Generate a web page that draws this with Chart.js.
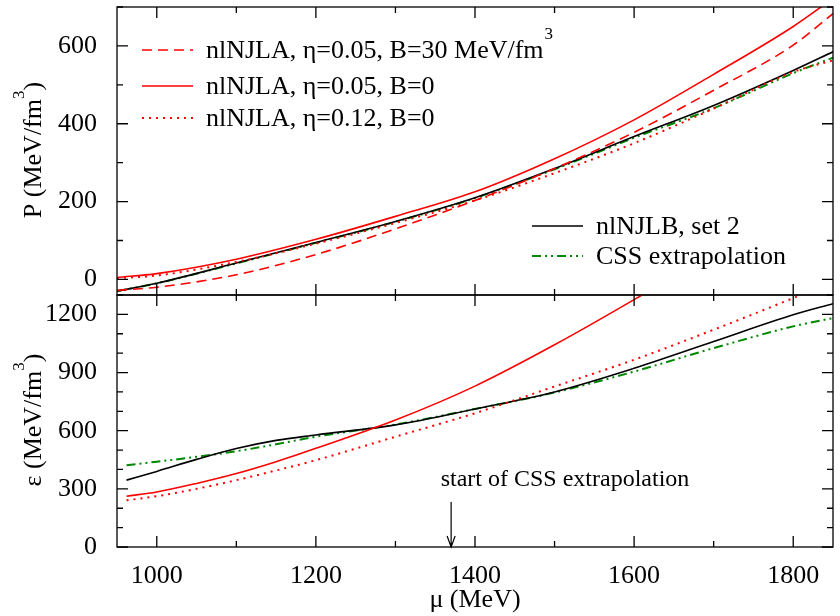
<!DOCTYPE html>
<html>
<head>
<meta charset="utf-8">
<script src="https://cdn.jsdelivr.net/npm/chart.js@4"></script>
<style>
  body { margin: 0; background: #fff; }
  .panel { position: absolute; left: 0; width: 840px; }
</style>
</head>
<body>
<div class="panel" style="top:0;height:300px"><canvas id="top"></canvas></div>
<div class="panel" style="top:290px;height:326px"><canvas id="bottom"></canvas></div>
<script>
// ---- data ----
const mu = [950, 1000, 1100, 1200, 1300, 1400, 1500, 1600, 1700, 1800, 1850];

// pressure P (MeV/fm^3)
const pA05B30 = [-28, -20, 12, 64, 130, 203, 285, 378, 486, 602, 683];
const pA05B0  = [5, 15, 52, 103, 162, 225, 310, 410, 527, 650, 722];
const pA12B0  = [3, 10, 45, 92, 145, 203, 273, 350, 439, 533, 563];
const pB2     = [-30, -10, 42, 95, 149, 210, 285, 367, 447, 537, 585];
const pCSS    = [-30, -10, 41, 94, 148, 209, 283, 364, 440, 530, 570];

// energy density eps (MeV/fm^3)
const muB    = [962, 1000, 1050, 1100, 1150, 1200, 1300, 1400, 1500, 1600, 1700, 1800, 1850];
const eA05B0 = [262, 284, 328, 379, 440, 509, 655, 830, 1043, 1276, 1520, null, null];
const eA12B0 = [241, 262, 300, 345, 395, 448, 569, 690, 828, 966, 1121, 1284, 1370];
const eB2    = [345, 390, 452, 508, 550, 578, 630, 712, 800, 922, 1060, 1198, 1255];
const eCSS   = [422, 440, 465, 494, 530, 569, 632, 712, 797, 905, 1026, 1138, 1181];

const xTicks = [1000, 1200, 1400, 1600, 1800];
const pTicks = [0, 200, 400, 600];
const eTicks = [0, 300, 600, 900, 1200];

const SERIF = '"Liberation Serif", "DejaVu Serif", serif';
const RED = '#ff0000', GREEN = '#008800';

const ds = (xs, ys, color, dash, width) => ({
  data: xs.map((x, i) => ({ x, y: ys[i] })),
  borderColor: color, borderWidth: width || 1.6, borderDash: dash || [],
  pointRadius: 0, cubicInterpolationMode: 'monotone', fill: false,
});

// inward tick marks on all four sides, like the original plot
const frameTicks = {
  id: 'frameTicks',
  afterDraw(chart, args, o) {
    const { ctx, chartArea: a, scales: { x, y } } = chart;
    ctx.save();
    ctx.strokeStyle = '#000'; ctx.lineWidth = 1.3;
    ctx.strokeRect(a.left, a.top, a.right - a.left, a.bottom - a.top);
    ctx.beginPath();
    for (let v = 1000; v <= 1800; v += 100) {
      const px = x.getPixelForValue(v), len = v % 200 === 0 ? 11 : 6;
      ctx.moveTo(px, a.bottom); ctx.lineTo(px, a.bottom - len);
      ctx.moveTo(px, a.top); ctx.lineTo(px, a.top + len);
    }
    for (let v = o.yMinor0; v <= y.max; v += 100) {
      const py = y.getPixelForValue(v), len = v % o.yMajor === 0 ? 11 : 6;
      ctx.moveTo(a.left, py); ctx.lineTo(a.left + len, py);
      ctx.moveTo(a.right, py); ctx.lineTo(a.right - len, py);
    }
    ctx.stroke();
    ctx.restore();
  }
};

// texts drawn on the canvas: axis titles with superscripts, legends, arrow
const decor = {
  id: 'decor',
  afterDraw(chart, args, o) {
    const { ctx } = chart;
    ctx.save();
    ctx.fillStyle = '#000';
    ctx.textBaseline = 'middle';
    // rotated y title
    ctx.save();
    ctx.translate(34, o.titleY);
    ctx.rotate(-Math.PI / 2);
    ctx.font = '26px ' + SERIF;
    const t1 = o.title, w1 = ctx.measureText(t1).width, w2 = ctx.measureText(')').width;
    ctx.font = '17px ' + SERIF;
    const w3 = ctx.measureText('3').width;
    const sx = -(w1 + w3 + w2) / 2;
    ctx.textAlign = 'left';
    ctx.font = '26px ' + SERIF;
    ctx.fillText(t1, sx, 0);
    ctx.font = '17px ' + SERIF;
    ctx.fillText('3', sx + w1, -14);
    ctx.font = '26px ' + SERIF;
    ctx.fillText(')', sx + w1 + w3, 0);
    ctx.restore();

    ctx.font = '26px ' + SERIF;
    ctx.textAlign = 'left';
    (o.legend || []).forEach(l => {
      ctx.beginPath();
      ctx.strokeStyle = l.color; ctx.lineWidth = l.w || 1.6;
      ctx.setLineDash(l.dash || []);
      ctx.moveTo(l.x0, l.y); ctx.lineTo(l.x0 + 51, l.y);
      ctx.stroke();
      ctx.setLineDash([]);
      ctx.fillText(l.text, l.x0 + 64, l.y + 1);
      if (l.sup) {
        const w = ctx.measureText(l.text).width;
        ctx.font = '17px ' + SERIF;
        ctx.fillText('3', l.x0 + 64 + w + 1, l.y - 15);
        ctx.font = '26px ' + SERIF;
      }
    });

    if (o.arrow) {
      const px = chart.scales.x.getPixelForValue(1370);
      ctx.font = '24px ' + SERIF;
      ctx.textAlign = 'center';
      ctx.fillText('start of CSS extrapolation', 565, 190);
      ctx.beginPath();
      ctx.strokeStyle = '#000'; ctx.lineWidth = 1.2;
      ctx.moveTo(px, 212); ctx.lineTo(px, 256);
      ctx.moveTo(px - 4, 246); ctx.lineTo(px, 257); ctx.lineTo(px + 4, 246);
      ctx.stroke();
      ctx.font = '26px ' + SERIF;
      ctx.fillText('\u03bc (MeV)', 475, 310);
    }
    ctx.restore();
  }
};

const tickFont = { family: SERIF, size: 26 };
const fixTicks = vals => scale => { scale.ticks = vals.map(value => ({ value })); };

function options(yMin, yMax, yVals, showX, topPad) {
  return {
    responsive: true, maintainAspectRatio: false, animation: false,
    layout: { padding: { top: topPad, right: 7, bottom: showX ? 0 : 5, left: 0 } },
    plugins: { legend: { display: false }, tooltip: { enabled: false } },
    scales: {
      x: {
        type: 'linear', min: 950, max: 1850, display: showX,
        afterBuildTicks: fixTicks(xTicks),
        afterFit: s => { s.height = showX ? 69 : 0; s.paddingLeft = 0; s.paddingRight = 0; },
        grid: { display: false }, border: { display: false },
        ticks: { color: '#000', font: tickFont, padding: 6, maxRotation: 0, callback: v => String(v) },
      },
      y: {
        min: yMin, max: yMax,
        afterBuildTicks: fixTicks(yVals),
        afterFit: s => { s.width = 117; s.paddingTop = 0; s.paddingBottom = 0; },
        grid: { display: false }, border: { display: false },
        ticks: { color: '#000', font: tickFont, padding: 12, callback: v => String(v) },
      },
    },
  };
}

const topOpts = options(-40, 700, pTicks, false, 7);
topOpts.plugins.frameTicks = { yMinor0: 0, yMajor: 200 };
topOpts.plugins.decor = {
  title: 'P (MeV/fm', titleY: 150,
  legend: [
    { x0: 142, y: 50, color: RED, dash: [10, 6], text: 'nlNJLA, \u03b7=0.05, B=30 MeV/fm', sup: true },
    { x0: 142, y: 86, color: RED, text: 'nlNJLA, \u03b7=0.05, B=0' },
    { x0: 142, y: 118, color: RED, dash: [2, 5], w: 2, text: 'nlNJLA, \u03b7=0.12, B=0' },
    { x0: 532, y: 226, color: '#000', text: 'nlNJLB, set 2' },
    { x0: 532, y: 256, color: GREEN, dash: [9, 4, 2, 4, 2, 4], w: 2, text: 'CSS extrapolation' },
  ],
};

new Chart(document.getElementById('top'), {
  type: 'line',
  data: { datasets: [
    ds(mu, pA05B30, RED, [10, 6]),
    ds(mu, pA05B0, RED),
    ds(mu, pA12B0, RED, [2, 5], 2),
    ds(mu, pB2, '#000'),
    ds(mu, pCSS, GREEN, [9, 4, 2, 4, 2, 4], 2),
  ] },
  options: topOpts,
  plugins: [frameTicks, decor],
});

const botOpts = options(0, 1300, eTicks, true, 5);
botOpts.plugins.frameTicks = { yMinor0: 0, yMajor: 300 };
botOpts.plugins.decor = { title: '\u03b5 (MeV/fm', titleY: 130, arrow: true };

new Chart(document.getElementById('bottom'), {
  type: 'line',
  data: { datasets: [
    ds(muB, eA05B0, RED),
    ds(muB, eA12B0, RED, [2, 5], 2),
    ds(muB, eB2, '#000'),
    ds(muB, eCSS, GREEN, [9, 4, 2, 4, 2, 4], 2),
  ] },
  options: botOpts,
  plugins: [frameTicks, decor],
});
</script>
</body>
</html>
